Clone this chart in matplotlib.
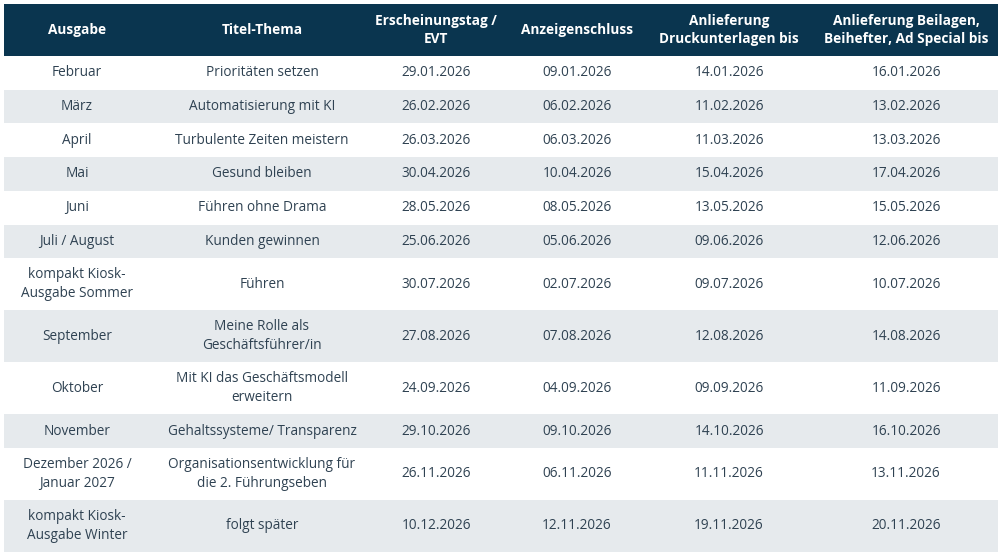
import matplotlib
matplotlib.use("Agg")
import matplotlib.pyplot as plt
from matplotlib.patches import Rectangle

# Table content
headers = ["Ausgabe", "Titel-Thema", "Erscheinungstag /\nEVT", "Anzeigenschluss",
           "Anlieferung\nDruckunterlagen bis", "Anlieferung Beilagen,\nBeihefter, Ad Special bis"]
ausgabe = ["Februar", "März", "April", "Mai", "Juni", "Juli / August",
           "kompakt Kiosk-\nAusgabe Sommer", "September", "Oktober", "November",
           "Dezember 2026 /\nJanuar 2027", "kompakt Kiosk-\nAusgabe Winter"]
thema = ["Prioritäten setzen", "Automatisierung mit KI", "Turbulente Zeiten meistern",
         "Gesund bleiben", "Führen ohne Drama", "Kunden gewinnen", "Führen",
         "Meine Rolle als\nGeschäftsführer/in", "Mit KI das Geschäftsmodell\nerweitern",
         "Gehaltssysteme/ Transparenz", "Organisationsentwicklung für\ndie 2. Führungseben",
         "folgt später"]
erscheinung = ["29.01.2026", "26.02.2026", "26.03.2026", "30.04.2026", "28.05.2026", "25.06.2026",
               "30.07.2026", "27.08.2026", "24.09.2026", "29.10.2026", "26.11.2026", "10.12.2026"]
anzeigen = ["09.01.2026", "06.02.2026", "06.03.2026", "10.04.2026", "08.05.2026", "05.06.2026",
            "02.07.2026", "07.08.2026", "04.09.2026", "09.10.2026", "06.11.2026", "12.11.2026"]
druck = ["14.01.2026", "11.02.2026", "11.03.2026", "15.04.2026", "13.05.2026", "09.06.2026",
         "09.07.2026", "12.08.2026", "09.09.2026", "14.10.2026", "11.11.2026", "19.11.2026"]
beilagen = ["16.01.2026", "13.02.2026", "13.03.2026", "17.04.2026", "15.05.2026", "12.06.2026",
            "10.07.2026", "14.08.2026", "11.09.2026", "16.10.2026", "13.11.2026", "20.11.2026"]

columns = [ausgabe, thema, erscheinung, anzeigen, druck, beilagen]
col_x = [77, 262, 436, 577, 729, 906]

HEAD = "#0a354f"
TEXT = "#2f4252"
STRIPE = "#e6eaed"
plt.rcParams['font.family'] = ['Open Sans', 'DejaVu Sans']

fig = plt.figure(figsize=(10.02, 5.56), dpi=100)
ax = fig.add_axes([0, 0, 1, 1])
ax.set_xlim(0, 1002)
ax.set_ylim(556, 0)
ax.axis("off")

left, right = 4, 998
ax.add_patch(Rectangle((left, 4), right - left, 52, color=HEAD, lw=0))
for x, h in zip(col_x, headers):
    ax.text(x, 30, h, ha="center", va="center", color="white", fontsize=9.8,
            fontweight="bold", linespacing=1.35)

y = 56
for i in range(len(ausgabe)):
    two_lines = any("\n" in col[i] for col in columns)
    h = 52 if two_lines else 33.7
    if i % 2 == 1:
        ax.add_patch(Rectangle((left, y), right - left, h, color=STRIPE, lw=0))
    for x, col in zip(col_x, columns):
        ax.text(x, y + h / 2, col[i], ha="center", va="center", color=TEXT,
                fontsize=9.8, linespacing=1.4)
    y += h

fig.savefig("out.png", dpi=100)
